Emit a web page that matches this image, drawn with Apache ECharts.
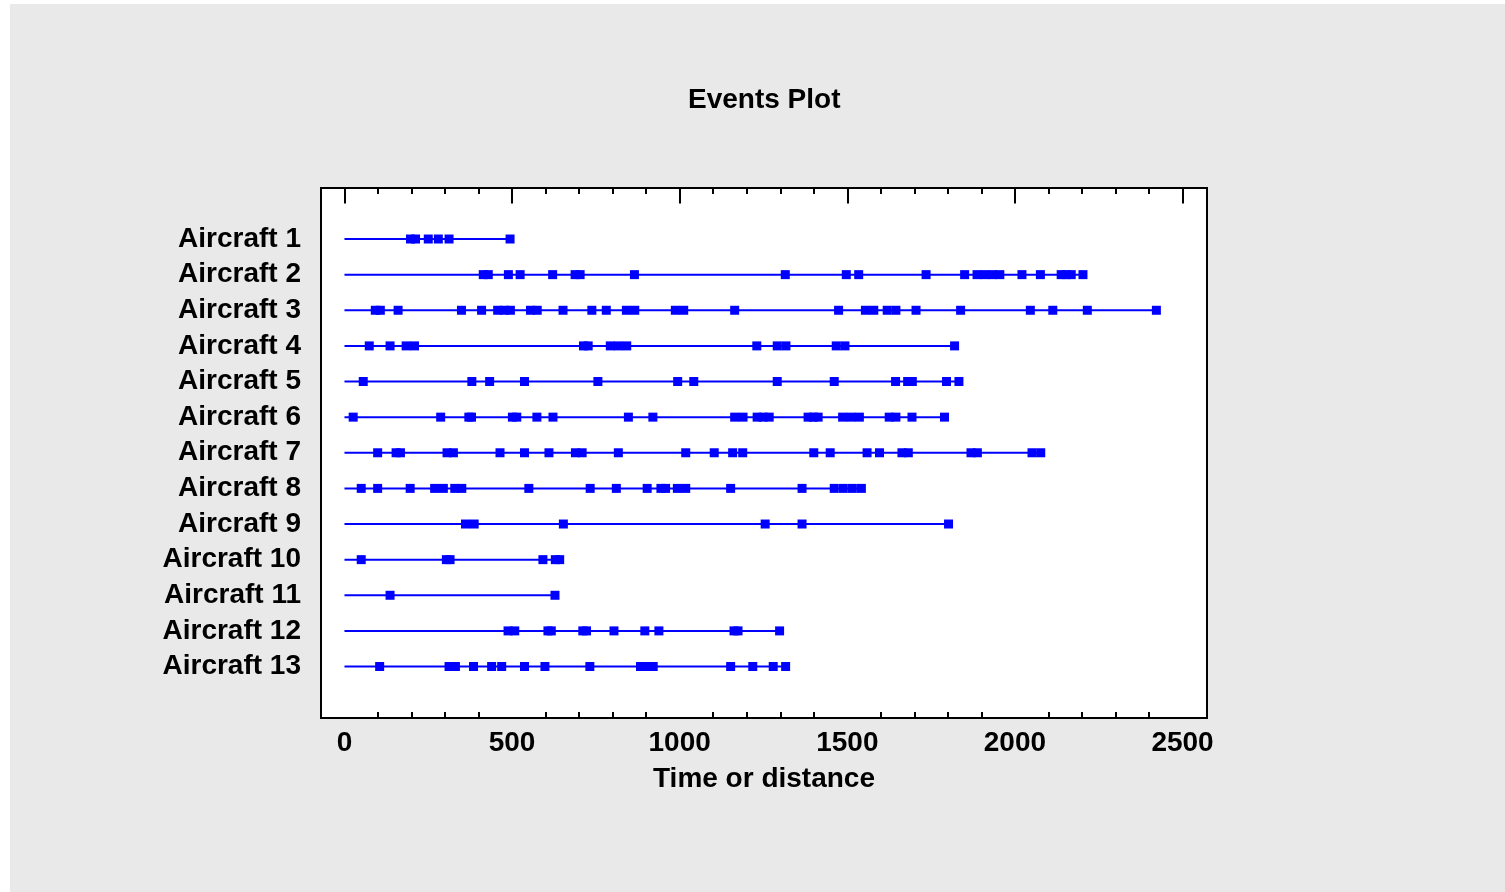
<!DOCTYPE html>
<html>
<head>
<meta charset="utf-8">
<title>Events Plot</title>
<script src="https://cdn.jsdelivr.net/npm/echarts@6/dist/echarts.min.js"></script>
<style>
  html, body { margin: 0; padding: 0; background: #ffffff; overflow: hidden; }
  #panel { position: absolute; left: 10px; top: 4px; right: 0; bottom: 0; background: #e9e9e9; }
  #chart { position: absolute; left: 0; top: 0; width: 1505px; height: 892px; }
</style>
</head>
<body>
<div id="panel"></div>
<div id="chart"></div>
<script>
// Row labels (top to bottom)
const aircraft = [
  'Aircraft 1', 'Aircraft 2', 'Aircraft 3', 'Aircraft 4', 'Aircraft 5',
  'Aircraft 6', 'Aircraft 7', 'Aircraft 8', 'Aircraft 9', 'Aircraft 10',
  'Aircraft 11', 'Aircraft 12', 'Aircraft 13'
];

// Event times for each aircraft
const events1 = [197, 212, 250, 280, 312, 494];
const events2 = [414, 429, 489, 524, 621, 688, 703, 865, 1315, 1497, 1534, 1735, 1850,
  1887, 1910, 1933, 1955, 2021, 2076, 2138, 2153, 2168, 2203];
const events3 = [92, 107, 160, 349, 409, 457, 477, 495, 555, 575, 652, 738, 781, 841, 866,
  987, 1012, 1164, 1474, 1554, 1579, 1619, 1645, 1705, 1838, 2046, 2113, 2216, 2422];
const events4 = [74, 136, 184, 209, 713, 727, 793, 817, 842, 1230, 1291, 1317, 1467, 1493, 1820];
const events5 = [56, 380, 433, 537, 756, 994, 1042, 1291, 1461, 1644, 1680, 1694, 1796, 1833];
const events6 = [26, 287, 371, 379, 501, 514, 574, 622, 847, 920, 1164, 1189, 1231, 1249, 1267,
  1383, 1399, 1413, 1486, 1511, 1536, 1625, 1645, 1693, 1790];
const events7 = [99, 154, 167, 306, 325, 464, 537, 610, 689, 709, 817, 1018, 1103, 1158, 1188,
  1400, 1449, 1559, 1596, 1663, 1682, 1869, 1888, 2051, 2077];
const events8 = [50, 99, 196, 269, 295, 329, 350, 550, 733, 811, 903, 944, 958, 993, 1018,
  1152, 1365, 1461, 1488, 1515, 1542];
const events9 = [361, 387, 653, 1255, 1365, 1802];
const events10 = [50, 304, 315, 592, 629, 642];
const events11 = [136, 628];
const events12 = [488, 508, 607, 617, 711, 722, 804, 896, 938, 1162, 1174, 1298];
const events13 = [105, 312, 331, 385, 439, 469, 537, 598, 732, 883, 902, 921, 1152, 1218, 1279, 1316];

const allEvents = [events1, events2, events3, events4, events5, events6, events7,
  events8, events9, events10, events11, events12, events13];

// Observation start for every aircraft
const startTime = 0;

// Axis tick values
const majorTicks = [0, 500, 1000, 1500, 2000, 2500];
const minorTicks = [100, 200, 300, 400, 600, 700, 800, 900, 1100, 1200, 1300, 1400,
  1600, 1700, 1800, 1900, 2100, 2200, 2300, 2400];
const rowTicks = aircraft.map((_, i) => i + 1);

const BLUE = '#0000ff';
const FONT = '"Liberation Sans", Arial, Helvetica, sans-serif';
const X_MIN = -70, X_MAX = 2573;

const chart = echarts.init(document.getElementById('chart'), null, { renderer: 'canvas' });

function xAxisDef(position, ticks, len, withLabels) {
  return {
    type: 'value', position: position, min: X_MIN, max: X_MAX,
    axisLine: { show: false },
    splitLine: { show: false },
    axisTick: {
      show: true, inside: true, length: len, customValues: ticks,
      lineStyle: { color: '#000', width: 2 }
    },
    axisLabel: withLabels ? {
      show: true, customValues: ticks, margin: 11,
      formatter: v => String(v),
      color: '#000', fontFamily: FONT, fontWeight: 'bold', fontSize: 28
    } : { show: false },
    name: withLabels ? 'Time or distance' : '',
    nameLocation: 'middle', nameGap: 47,
    nameTextStyle: { color: '#000', fontFamily: FONT, fontWeight: 'bold', fontSize: 28 }
  };
}

const series = [];
allEvents.forEach((ev, i) => {
  const row = i + 1;
  const last = ev[ev.length - 1];
  series.push({
    type: 'line', xAxisIndex: 0, yAxisIndex: 0,
    data: [[startTime, row], [last, row]],
    showSymbol: false, symbol: 'none', silent: true,
    lineStyle: { color: BLUE, width: 2 },
    animation: false
  });
});
series.push({
  type: 'scatter', xAxisIndex: 0, yAxisIndex: 0,
  symbol: 'rect', symbolSize: 9,
  itemStyle: { color: BLUE, opacity: 1 },
  data: allEvents.flatMap((ev, i) => ev.map(v => [v, i + 1])),
  animation: false, z: 3
});

chart.setOption({
  animation: false,
  backgroundColor: 'transparent',
  title: {
    text: 'Events Plot', left: 683, top: 81,
    textStyle: { color: '#000', fontFamily: FONT, fontWeight: 'bold', fontSize: 28 }
  },
  grid: {
    left: 321, top: 188, width: 886, height: 530,
    show: true, backgroundColor: '#ffffff', borderColor: '#000', borderWidth: 2,
    containLabel: false
  },
  xAxis: [
    xAxisDef('bottom', majorTicks, 10, true),
    xAxisDef('bottom', minorTicks, 6, false),
    xAxisDef('top', majorTicks, 10, false),
    xAxisDef('top', minorTicks, 6, false)
  ],
  yAxis: {
    type: 'value', inverse: true, min: -0.432, max: 14.445,
    axisLine: { show: false }, axisTick: { show: false }, splitLine: { show: false },
    axisLabel: {
      show: true, customValues: rowTicks, margin: 20,
      formatter: v => aircraft[v - 1],
      color: '#000', fontFamily: FONT, fontWeight: 'bold', fontSize: 28
    }
  },
  series: series
});
</script>
</body>
</html>
